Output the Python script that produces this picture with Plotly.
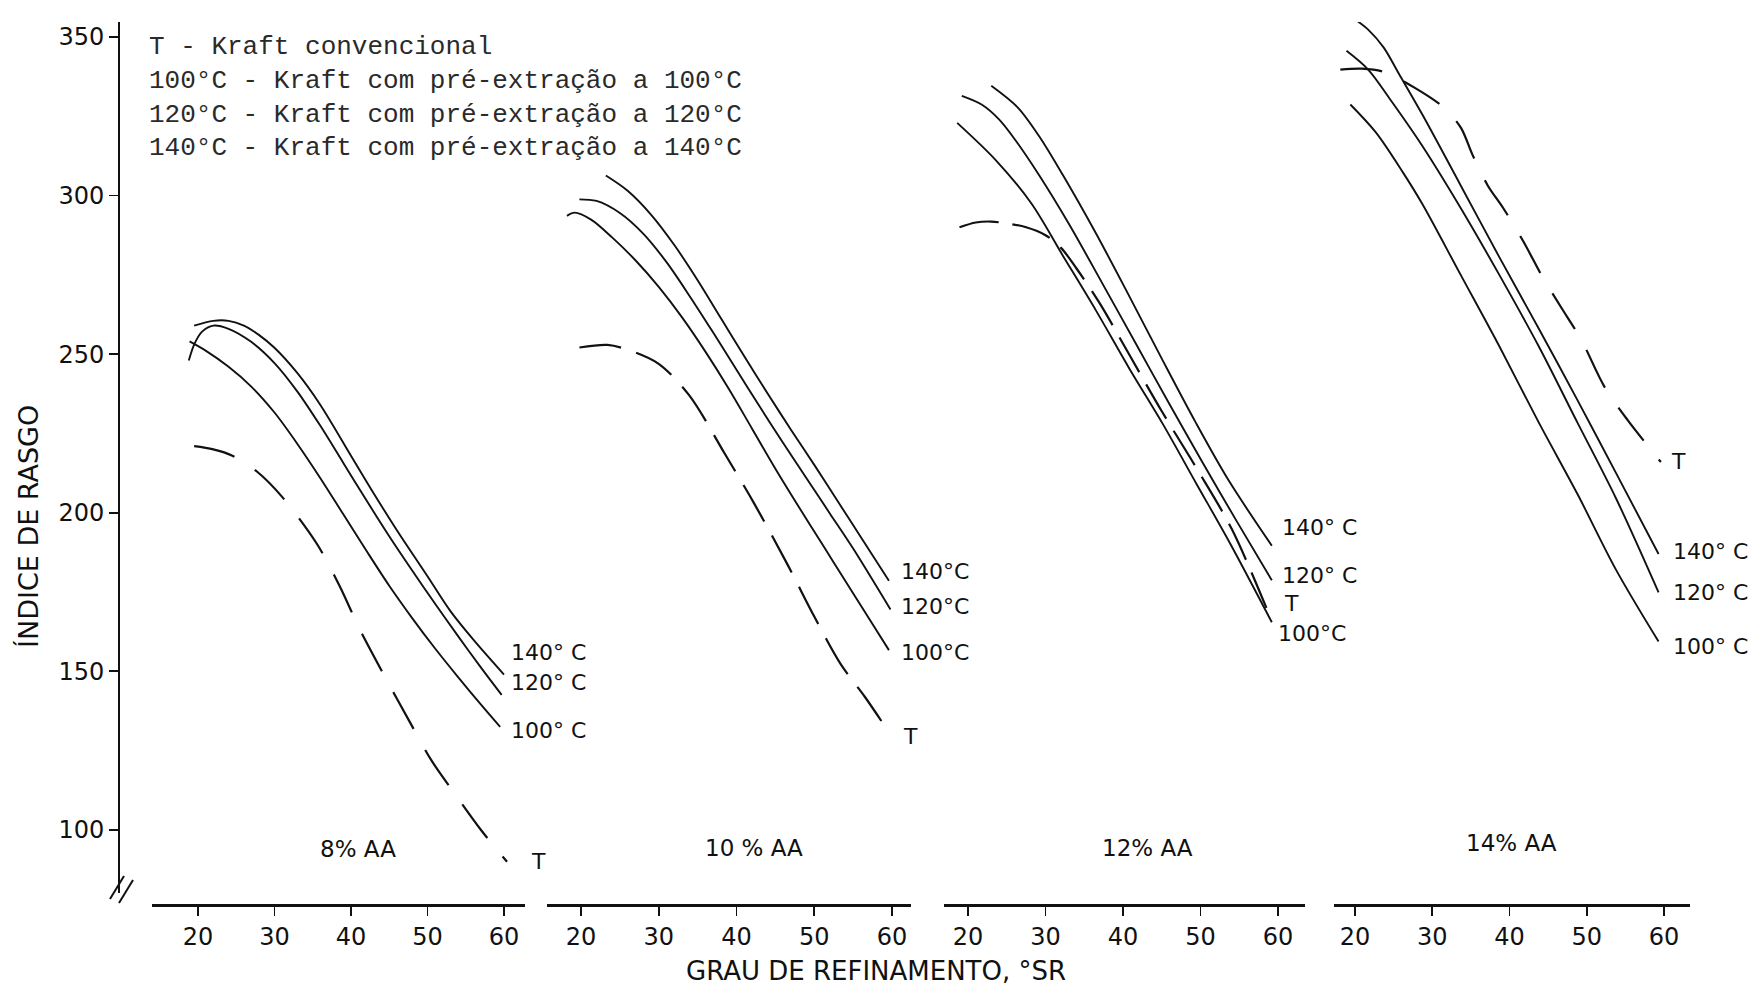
import plotly.graph_objects as go

W, H = 1760, 985

# ---------------- data ----------------
panel_names = ["8% AA", "10 % AA", "12% AA", "14% AA"]
x_ticks = [20, 30, 40, 50, 60]
y_ticks = [100, 150, 200, 250, 300, 350]

# Panel 1: 8% AA
p1_100_x = [18.9, 21, 24, 27, 30, 33, 36, 39, 42, 45, 48, 51, 54, 57, 59.5]
p1_100_y = [254, 251.1, 246, 239.7, 231.6, 221.7, 210.9, 199.5, 188.1, 177, 166.8, 157.2, 148.2, 139.5, 132.5]
p1_120_x = [18.8, 19.5, 20.5, 22, 24, 27, 30, 33, 36, 39, 42, 45, 48, 51, 54, 57, 59.7]
p1_120_y = [248, 253, 257, 259, 258, 253.8, 247.2, 238.2, 227.4, 215.7, 204.0, 192.6, 181.8, 171.3, 161.1, 151.2, 142.6]
p1_140_x = [19.5, 22, 24, 26, 28, 30, 33, 36, 40, 43, 46, 50, 53, 56, 60]
p1_140_y = [259, 260.5, 260.5, 259, 256, 252, 244, 234, 218, 206, 194.5, 180, 169, 160, 149]
p1_T_x = [19.5, 22, 24.5, 27.7, 31, 35.6, 38.5, 41.2, 44.5, 47.7, 50.5, 53.4, 57, 60.4]
p1_T_y = [221, 220, 218, 213, 205, 190, 177, 163, 148, 134, 122, 112, 100, 90]

# Panel 2: 10% AA
p2_100_x = [18.2, 19.2, 21.3, 24, 27, 30, 33, 36, 39, 42, 45, 48, 51, 54, 57, 59.6]
p2_100_y = [293.6, 294.6, 292.4, 286.8, 279.6, 271.2, 261.6, 250.8, 239.1, 226.5, 213.9, 201.9, 190.2, 178.5, 166.8, 156.7]
p2_120_x = [19.8, 22, 25, 28, 31, 34, 37, 40, 43, 46, 49, 52, 55, 59.8]
p2_120_y = [298.8, 298.3, 294.5, 288, 279, 268.2, 256.8, 245.1, 233.4, 222, 210.9, 199.8, 188.7, 169.5]
p2_140_x = [23.2, 26, 29, 32, 35, 38, 41, 44, 47, 50, 53, 56, 59.6]
p2_140_y = [306.3, 301.5, 294, 284.4, 273.3, 261.3, 249.3, 237.6, 226.2, 215.1, 203.7, 192.3, 178.6]
p2_T_x = [19.8, 23.4, 26.0, 29.9, 33.9, 38.4, 42.3, 46.6, 50.0, 53.4, 56.5, 59.0]
p2_T_y = [252.1, 252.9, 251.4, 247.1, 237.1, 219.0, 202.8, 183.5, 167.3, 152.3, 142.0, 133.0]

# Panel 3: 12% AA
p3_100_x = [18.6, 23.6, 28.2, 32.2, 36.5, 40.9, 45.2, 49.5, 53.8, 59.2]
p3_100_y = [322.9, 311.1, 297.4, 281.2, 263.8, 245.1, 227.7, 209.0, 190.4, 165.5]
p3_120_x = [19.2, 21.8, 24.0, 26.1, 29.2, 33.1, 37.4, 41.7, 46.0, 50.3, 54.7, 59.2]
p3_120_y = [331.4, 328.6, 324.0, 317.5, 306.3, 290.7, 272.0, 253.1, 234.2, 215.7, 197.2, 178.7]
p3_140_x = [23.0, 26.4, 29.2, 32.2, 36.5, 40.8, 45.1, 49.3, 53.6, 59.2]
p3_140_y = [334.6, 327.8, 318.6, 306.6, 288.1, 268.3, 248.1, 228.8, 210.3, 189.6]
p3_T_x = [18.9, 21, 23, 25, 27.5, 30, 32, 34, 37, 41, 45, 49.5, 54, 58.5]
p3_T_y = [290, 291.5, 291.8, 291.2, 290, 287.5, 283.5, 277, 266, 249, 232, 214, 195, 170]

# Panel 4: 14% AA
p4_100_x = [19.4, 22.7, 26.2, 28.7, 33.7, 38.7, 43.8, 48.8, 53.8, 59.3]
p4_100_y = [328.7, 319.9, 307.3, 297.4, 274.9, 252.4, 228.4, 205.9, 182.0, 159.4]
p4_120_x = [18.9, 21.7, 24.7, 28.7, 33.7, 38.7, 43.8, 48.8, 53.8, 59.3]
p4_120_y = [345.6, 339.7, 329.8, 315.7, 296.0, 274.9, 252.4, 228.4, 204.5, 174.9]
p4_140_x = [19.4, 21.7, 23.7, 25.7, 28.7, 33.7, 38.7, 43.8, 48.8, 53.8, 59.3]
p4_140_y = [356.6, 352.3, 346.7, 338.3, 325.6, 303.1, 280.5, 258.0, 235.5, 212.5, 187.0]
p4_T_x = [18.1, 20.9, 23.7, 27.7, 31.5, 33.7, 35.2, 37.2, 39.2, 41.8, 44.3, 46.8, 49.3, 52.3, 55.3, 59.6]
p4_T_y = [339.7, 340.0, 339.0, 334.0, 327.7, 321.4, 312.9, 303.1, 296.0, 285.5, 274.2, 264.3, 254.5, 239.7, 229.2, 216.0]

legend_lines = [
    "T - Kraft convencional",
    "100°C - Kraft com pré-extração a 100°C",
    "120°C - Kraft com pré-extração a 120°C",
    "140°C - Kraft com pré-extração a 140°C",
]

# ---------------- figure ----------------
INK = "#111111"
LABEL_FONT = "DejaVu Sans"

panels = [
    ("x", [(p1_100_x, p1_100_y, "100°C"), (p1_120_x, p1_120_y, "120°C"),
           (p1_140_x, p1_140_y, "140°C"), (p1_T_x, p1_T_y, "T")]),
    ("x2", [(p2_100_x, p2_100_y, "100°C"), (p2_120_x, p2_120_y, "120°C"),
            (p2_140_x, p2_140_y, "140°C"), (p2_T_x, p2_T_y, "T")]),
    ("x3", [(p3_100_x, p3_100_y, "100°C"), (p3_120_x, p3_120_y, "120°C"),
            (p3_140_x, p3_140_y, "140°C"), (p3_T_x, p3_T_y, "T")]),
    ("x4", [(p4_100_x, p4_100_y, "100°C"), (p4_120_x, p4_120_y, "120°C"),
            (p4_140_x, p4_140_y, "140°C"), (p4_T_x, p4_T_y, "T")]),
]
dash_styles = ["42px,24px", "42px,16px", "40px,14px", "42px,24px"]

fig = go.Figure()
for i, (xa, series) in enumerate(panels):
    for xs, ys, name in series:
        dashed = name == "T"
        fig.add_trace(go.Scatter(
            x=xs, y=ys, xaxis=xa, yaxis="y", mode="lines", name=name,
            showlegend=False, hoverinfo="skip",
            line=dict(color=INK, width=2.2 if dashed else 1.9,
                      dash=dash_styles[i] if dashed else "solid",
                      shape="spline", smoothing=0.9),
        ))


def px(xp):
    return xp / W


def py(yp):
    return 1 - yp / H


x_domains = [(152, 525), (547, 911), (944, 1305), (1334, 1690)]
x_ranges = [(13.99, 62.75), (15.63, 62.44), (16.90, 63.48), (17.28, 63.37)]

axis_common = dict(
    showline=True, linecolor=INK, linewidth=3.2, ticks="outside", ticklen=9,
    tickwidth=1.6, tickcolor=INK, tickvals=x_ticks, showgrid=False,
    zeroline=False, anchor="free", position=py(905), automargin=False,
    tickfont=dict(family=LABEL_FONT, size=24, color=INK), fixedrange=True,
)
layout_axes = {}
for i, (dom, rng) in enumerate(zip(x_domains, x_ranges)):
    key = "xaxis" if i == 0 else f"xaxis{i + 1}"
    layout_axes[key] = dict(axis_common, domain=[px(dom[0]), px(dom[1])], range=list(rng))

fig.update_layout(
    width=W, height=H, margin=dict(l=0, r=0, t=0, b=0),
    paper_bgcolor="white", plot_bgcolor="white", showlegend=False,
    yaxis=dict(
        domain=[py(893), py(22)], range=[80.14, 354.7], anchor="free",
        position=px(119), showline=True, linecolor=INK, linewidth=2.2,
        ticks="outside", ticklen=9, tickwidth=1.8, tickcolor=INK,
        tickvals=y_ticks, showgrid=False, zeroline=False, automargin=False,
        tickfont=dict(family=LABEL_FONT, size=24, color=INK), fixedrange=True,
    ),
    **layout_axes,
)

# legend block (typewriter)
fig.add_annotation(
    xref="paper", yref="paper", x=px(147), y=py(30), xanchor="left", yanchor="top",
    align="left", showarrow=False, text="<br>".join(legend_lines),
    font=dict(family="Liberation Mono", size=26, color="#2a2a2a"),
)

# curve end labels (per panel)
end_labels = [
    ("x", [("140° C", 60.6, 155.9), ("120° C", 60.6, 146.5), ("100° C", 60.6, 131.3)]),
    ("x2", [("140°C", 60.9, 181.4), ("120°C", 60.9, 170.4), ("100°C", 60.9, 155.9), ("T", 61.2, 129.4)]),
    ("x3", [("140° C", 60.3, 195.5), ("120° C", 60.3, 180.3), ("T", 60.5, 171.5), ("100°C", 59.8, 161.9)]),
    ("x4", [("T", 60.6, 216.1), ("140° C", 60.9, 187.8), ("120° C", 60.9, 175.0), ("100° C", 60.9, 157.7)]),
]
for xa, labs in end_labels:
    for txt, lx, ly in labs:
        fig.add_annotation(
            xref=xa, yref="y", x=lx, y=ly, xanchor="left", yanchor="middle",
            showarrow=False, text=txt,
            font=dict(family=LABEL_FONT, size=22, color=INK),
        )
# the T label of the first panel lies right of its axis end
fig.add_annotation(
    xref="paper", yref="y", x=px(529), y=90.0, xanchor="left", yanchor="middle",
    showarrow=False, text="T", font=dict(family=LABEL_FONT, size=22, color=INK),
)

# panel names
panel_pos = [("x", 40.9, 94.0), ("x2", 42.3, 94.3), ("x3", 43.2, 94.3), ("x4", 40.2, 96.0)]
for name, (xa, lx, ly) in zip(panel_names, panel_pos):
    fig.add_annotation(
        xref=xa, yref="y", x=lx, y=ly, xanchor="center", yanchor="middle",
        showarrow=False, text=name,
        font=dict(family=LABEL_FONT, size=23, color=INK),
    )

# axis titles
fig.add_annotation(
    xref="paper", yref="paper", x=px(28), y=py(527), xanchor="center", yanchor="middle",
    textangle=-90, showarrow=False, text="ÍNDICE DE RASGO",
    font=dict(family=LABEL_FONT, size=27, color=INK),
)
fig.add_annotation(
    xref="paper", yref="paper", x=px(876), y=py(971), xanchor="center", yanchor="middle",
    showarrow=False, text="GRAU DE REFINAMENTO, °SR",
    font=dict(family=LABEL_FONT, size=26, color=INK),
)

# axis break marks
for (x0, y0, x1, y1) in [(110, 899, 124, 876), (119, 903, 133, 880)]:
    fig.add_shape(type="line", xref="paper", yref="paper",
                  x0=px(x0), y0=py(y0), x1=px(x1), y1=py(y1),
                  line=dict(color=INK, width=2))

fig.write_html(
    "out.html",
    config={"displayModeBar": False, "staticPlot": True},
    post_script="document.body.style.margin='0';document.documentElement.style.overflow='hidden';",
)
